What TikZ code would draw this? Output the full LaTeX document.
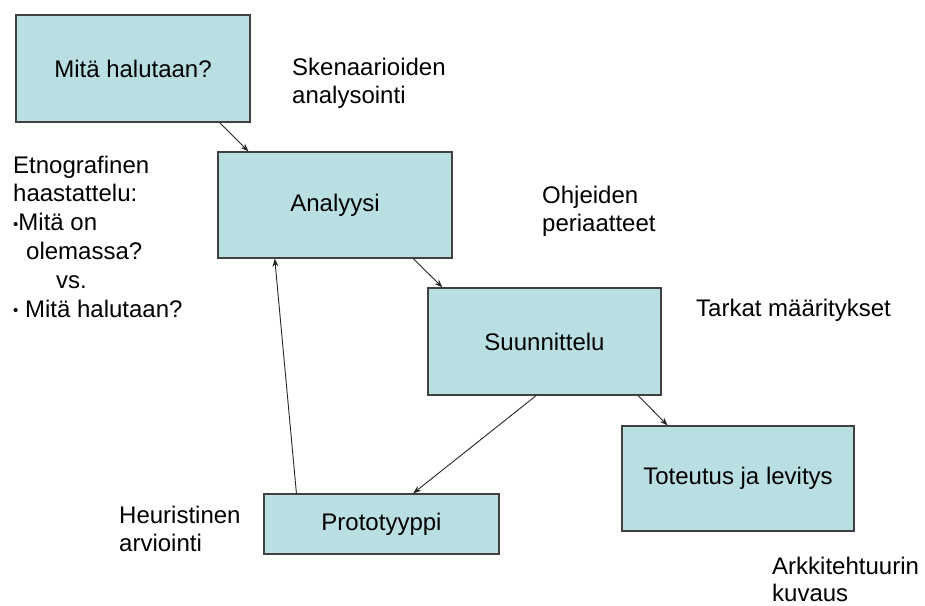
\documentclass[tikz,border=0pt]{standalone}
\usepackage{fontspec}
\setmainfont{Liberation Sans}
\usetikzlibrary{calc,arrows.meta}
\definecolor{boxfill}{HTML}{B9DFE2}
\definecolor{boxline}{HTML}{404040}
\tikzset{
  stage/.style={draw=boxline, line width=1.3pt, fill=boxfill, inner sep=0pt,
    font=\fontsize{24}{28.7}\selectfont},
  note/.style={anchor=base west, inner sep=0pt, font=\fontsize{24}{28.4}\selectfont},
  flow/.style={draw=black!85, line width=0.9pt, -{Stealth[length=8pt,width=6pt]}}
}
\newcommand{\lines}[1]{\parbox[t]{9cm}{\raggedright #1}}
\newcommand{\bul}{{\fontsize{15}{15}\selectfont\raisebox{1.5pt}{•}}}
\begin{document}
\begin{tikzpicture}[x=1pt,y=-1pt]
\useasboundingbox (0,0) rectangle (925,605);

% process stages
\node[stage, minimum width=234pt, minimum height=107pt] (want) at (133,68.5) {Mitä halutaan?};
\node[stage, minimum width=234pt, minimum height=106pt] (anal) at (335,205) {Analyysi};
\node[stage, minimum width=233pt, minimum height=107pt] (design) at (544.5,341.5) {Suunnittelu};
\node[stage, minimum width=232pt, minimum height=105pt] (impl) at (738,478.5) {Toteutus ja levitys};
\node[stage, minimum width=235pt, minimum height=60pt] (proto) at (381.5,524) {Prototyyppi};

% side notes
\node[note] (scen) at (292,75) {\lines{Skenaarioiden\\analysointi}};
\node[note] (guide) at (542,203) {\lines{Ohjeiden\\periaatteet}};
\node[note] (spec) at (696,316) {Tarkat määritykset};
\node[note] (heur) at (119,523) {\lines{Heuristinen\\arviointi}};
\node[note] (arch) at (772,574) {\lines{\baselineskip=27pt Arkkitehtuurin\\kuvaus}};
\node[note] (ethno) at (13,173) {\lines{\baselineskip=28.8pt Etnografinen\\haastattelu:\\\bul Mitä on\\\hspace*{13pt}olemassa?\\\hspace*{43pt}vs.\\\bul\ Mitä halutaan?}};

% connectors
\draw[flow] ($(want.south west)!0.868!(want.south east)$) -- ($(anal.north west)!0.132!(anal.north east)$);
\draw[flow] ($(anal.south west)!0.833!(anal.south east)$) -- ($(design.north west)!0.064!(design.north east)$);
\draw[flow] ($(design.south west)!0.90!(design.south east)$) -- ($(impl.north west)!0.198!(impl.north east)$);
\draw[flow] ($(design.south west)!0.464!(design.south east)$) -- ($(proto.north west)!0.634!(proto.north east)$);
\draw[flow] ($(proto.north west)!0.14!(proto.north east)$) -- ($(anal.south west)!0.244!(anal.south east)$);
\end{tikzpicture}
\end{document}
